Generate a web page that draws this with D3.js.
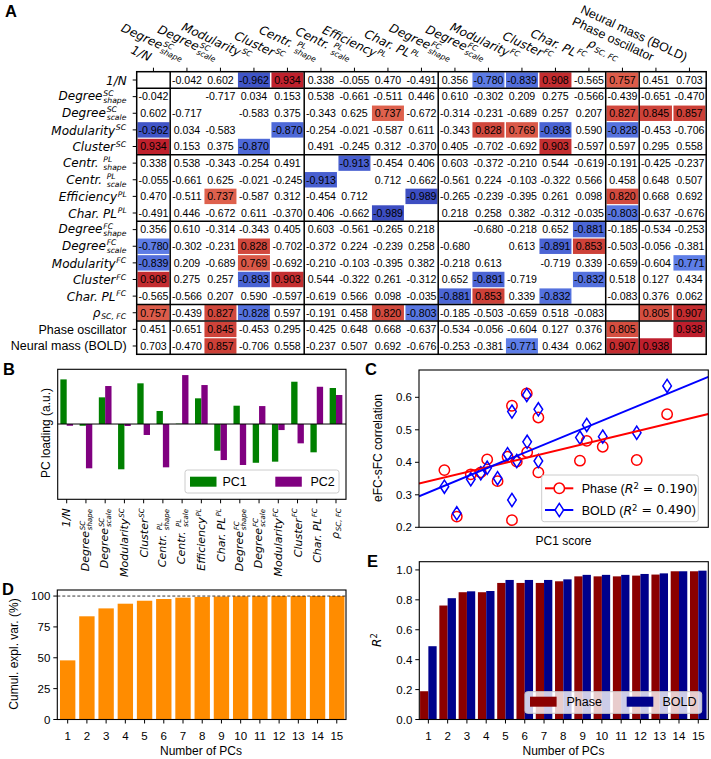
<!DOCTYPE html>
<html><head><meta charset="utf-8">
<script src="https://cdn.jsdelivr.net/npm/d3@7"></script>
<style>
body{margin:0;background:#fff}
</style></head><body>
<svg id="chart" width="711" height="759" xmlns="http://www.w3.org/2000/svg"></svg>
<script>
// ================= DATA =================
const varNames = [
  {m:"1/N"},
  {m:"Degree", sup:"SC", sub:"shape"},
  {m:"Degree", sup:"SC", sub:"scale"},
  {m:"Modularity", sup:"SC"},
  {m:"Cluster", sup:"SC"},
  {m:"Centr.\u00a0", sup:"PL", sub:"shape"},
  {m:"Centr.\u00a0", sup:"PL", sub:"scale"},
  {m:"Efficiency", sup:"PL"},
  {m:"Char.\u00a0PL", sup:"PL"},
  {m:"Degree", sup:"FC", sub:"shape"},
  {m:"Degree", sup:"FC", sub:"scale"},
  {m:"Modularity", sup:"FC"},
  {m:"Cluster", sup:"FC"},
  {m:"Char.\u00a0PL", sup:"FC"},
  {m:"\u03c1", sub:"SC,\u00a0FC"},
  {m:"Phase oscillator", plain:true},
  {m:"Neural mass (BOLD)", plain:true}
];
const groupBreaks = [1, 5, 9, 14, 15];
const colorThreshold = 0.72;
const corr = [
 [null,-0.042,0.602,-0.962,0.934,0.338,-0.055,0.470,-0.491,0.356,-0.780,-0.839,0.908,-0.565,0.757,0.451,0.703],
 [-0.042,null,-0.717,0.034,0.153,0.538,-0.661,-0.511,0.446,0.610,-0.302,0.209,0.275,-0.566,-0.439,-0.651,-0.470],
 [0.602,-0.717,null,-0.583,0.375,-0.343,0.625,0.737,-0.672,-0.314,-0.231,-0.689,0.257,0.207,0.827,0.845,0.857],
 [-0.962,0.034,-0.583,null,-0.870,-0.254,-0.021,-0.587,0.611,-0.343,0.828,0.769,-0.893,0.590,-0.828,-0.453,-0.706],
 [0.934,0.153,0.375,-0.870,null,0.491,-0.245,0.312,-0.370,0.405,-0.702,-0.692,0.903,-0.597,0.597,0.295,0.558],
 [0.338,0.538,-0.343,-0.254,0.491,null,-0.913,-0.454,0.406,0.603,-0.372,-0.210,0.544,-0.619,-0.191,-0.425,-0.237],
 [-0.055,-0.661,0.625,-0.021,-0.245,-0.913,null,0.712,-0.662,-0.561,0.224,-0.103,-0.322,0.566,0.458,0.648,0.507],
 [0.470,-0.511,0.737,-0.587,0.312,-0.454,0.712,null,-0.989,-0.265,-0.239,-0.395,0.261,0.098,0.820,0.668,0.692],
 [-0.491,0.446,-0.672,0.611,-0.370,0.406,-0.662,-0.989,null,0.218,0.258,0.382,-0.312,-0.035,-0.803,-0.637,-0.676],
 [0.356,0.610,-0.314,-0.343,0.405,0.603,-0.561,-0.265,0.218,null,-0.680,-0.218,0.652,-0.881,-0.185,-0.534,-0.253],
 [-0.780,-0.302,-0.231,0.828,-0.702,-0.372,0.224,-0.239,0.258,-0.680,null,0.613,-0.891,0.853,-0.503,-0.056,-0.381],
 [-0.839,0.209,-0.689,0.769,-0.692,-0.210,-0.103,-0.395,0.382,-0.218,0.613,null,-0.719,0.339,-0.659,-0.604,-0.771],
 [0.908,0.275,0.257,-0.893,0.903,0.544,-0.322,0.261,-0.312,0.652,-0.891,-0.719,null,-0.832,0.518,0.127,0.434],
 [-0.565,-0.566,0.207,0.590,-0.597,-0.619,0.566,0.098,-0.035,-0.881,0.853,0.339,-0.832,null,-0.083,0.376,0.062],
 [0.757,-0.439,0.827,-0.828,0.597,-0.191,0.458,0.820,-0.803,-0.185,-0.503,-0.659,0.518,-0.083,null,0.805,0.907],
 [0.451,-0.651,0.845,-0.453,0.295,-0.425,0.648,0.668,-0.637,-0.534,-0.056,-0.604,0.127,0.376,0.805,null,0.938],
 [0.703,-0.470,0.857,-0.706,0.558,-0.237,0.507,0.692,-0.676,-0.253,-0.381,-0.771,0.434,0.062,0.907,0.938,null]
];

// Panel B: PC loadings (a.u.)
const pcVarCount = 15;
const pc1Loading = [0.363,-0.014,0.217,-0.368,0.331,0.106,0.003,0.209,-0.217,0.149,-0.315,-0.306,0.344,-0.230,0.293];
const pc2Loading = [-0.014,-0.360,0.309,-0.016,-0.089,-0.352,0.398,0.317,-0.293,-0.333,0.146,-0.049,-0.157,0.303,0.236];
const pcLegend = ["PC1","PC2"];

// Panel C: PC1 score vs eFC-sFC correlation
const pc1Score  = [-1.39,-1.08,-0.73,-0.48,-0.32,-0.06,0.19,0.30,0.30,0.42,0.67,0.68,0.96,0.96,2.00,2.17,2.57,3.42,4.18];
const phaseCorr = [0.376,0.233,0.363,0.369,0.409,0.342,0.417,0.574,0.222,0.402,0.612,0.431,0.538,0.369,0.405,0.466,0.448,0.407,0.548];
const boldCorr  = [0.325,0.243,0.348,0.366,0.383,0.351,0.425,0.556,0.284,0.404,0.607,0.463,0.563,0.404,0.476,0.515,0.479,0.491,0.635];
const r2Labels = ["0.190","0.490"];
const cYTicks = [0.2,0.3,0.4,0.5,0.6];

// Panel D / E
const nPCs = [1,2,3,4,5,6,7,8,9,10,11,12,13,14,15];
const cumulVar = [47.9,83.6,90.0,93.8,96.2,97.6,98.7,99.3,99.6,99.8,99.9,100,100,100,100];
const dYTicks = [0,25,50,75,100];
const r2Phase = [0.189,0.762,0.851,0.851,0.913,0.913,0.913,0.924,0.957,0.957,0.957,0.962,0.969,0.991,0.991];
const r2Bold  = [0.490,0.811,0.857,0.859,0.933,0.933,0.933,0.937,0.967,0.967,0.967,0.973,0.977,0.991,0.995];
const eYTicks = [0,0.2,0.4,0.6,0.8,1.0];
const eLegend = ["Phase","BOLD"];

// ================= DRAWING =================
const SANS = "'Liberation Sans', Arial, Helvetica, sans-serif";
const MATH = "'DejaVu Sans', sans-serif";
const svg = d3.select("#chart");
svg.append("rect").attr("width",711).attr("height",759).attr("fill","#fff");

// coolwarm colormap approximation
const cwStops = [
  [0.0,[59,76,192]],[0.0625,[77,104,215]],[0.125,[98,130,234]],[0.1875,[120,155,247]],
  [0.25,[141,176,254]],[0.5,[221,221,221]],[0.75,[244,154,123]],[0.8125,[234,123,96]],
  [0.875,[221,94,75]],[0.9375,[201,59,52]],[1.0,[180,4,38]]
];
const coolwarm = d3.scaleLinear().domain(cwStops.map(d=>d[0])).range(cwStops.map(d=>d3.rgb(...d[1]))).interpolate(d3.interpolateRgb);

function drawMath(g, spec, size){
  const plain = !!spec.plain;
  const t = g.append("text").attr("x",0).attr("y",0)
    .attr("font-family", plain?SANS:MATH).attr("font-size",size)
    .attr("font-style", plain?"normal":"italic").attr("fill","#000").text(spec.m);
  const w = t.node().getComputedTextLength();
  const ss = size*0.64;
  if (spec.sup){
    g.append("text").attr("x",w+0.8).attr("y",-0.38*size)
     .attr("font-family",MATH).attr("font-size",ss).attr("font-style","italic").text(spec.sup);
  }
  if (spec.sub){
    g.append("text").attr("x",w+0.8).attr("y",(spec.sup?0.25:0.2)*size)
     .attr("font-family",MATH).attr("font-size",ss).attr("font-style","italic").text(spec.sub);
  }
}
function placeLabel(parent, spec, size, angle, al){
  const outer = parent.append("g");
  const inner = outer.append("g").attr("transform",`rotate(${angle})`);
  drawMath(inner, spec, size);
  const bb = outer.node().getBBox();
  let tx, ty;
  if (al.right!=null) tx = al.right-(bb.x+bb.width);
  else if (al.cx!=null) tx = al.cx-(bb.x+bb.width/2);
  else tx = al.left-bb.x;
  if (al.bottom!=null) ty = al.bottom-(bb.y+bb.height);
  else if (al.top!=null) ty = al.top-bb.y;
  else ty = al.cy-(bb.y+bb.height/2);
  outer.attr("transform",`translate(${tx},${ty})`);
  return outer;
}
function panelLetter(ch,x,y){
  svg.append("text").attr("x",x).attr("y",y).attr("font-family",SANS).attr("font-weight","bold")
    .attr("font-size",16.5).text(ch);
}
function frame(b){
  svg.append("rect").attr("x",b.left).attr("y",b.top).attr("width",b.right-b.left)
    .attr("height",b.bottom-b.top).attr("fill","none").attr("stroke","#000").attr("stroke-width",1.1);
}
function legendBox(x,y,w,h){
  svg.append("rect").attr("x",x).attr("y",y).attr("width",w).attr("height",h).attr("rx",2.5)
    .attr("fill","#fff").attr("fill-opacity",0.8).attr("stroke","#cccccc").attr("stroke-width",1);
}
function yAxisTicks(scale, ticks, b, fmt){
  const g = svg.append("g");
  ticks.forEach(t=>{
    const y = scale(t);
    g.append("line").attr("x1",b.left-4).attr("x2",b.left).attr("y1",y).attr("y2",y).attr("stroke","#000").attr("stroke-width",1);
    g.append("text").attr("x",b.left-7).attr("y",y).attr("dy","0.36em").attr("text-anchor","end")
      .attr("font-family",SANS).attr("font-size",11.5).text(fmt(t));
  });
}
function xAxisTicks(scale, ticks, b){
  const g = svg.append("g");
  ticks.forEach(t=>{
    const x = scale(t);
    g.append("line").attr("x1",x).attr("x2",x).attr("y1",b.bottom).attr("y2",b.bottom+4).attr("stroke","#000").attr("stroke-width",1);
    g.append("text").attr("x",x).attr("y",b.bottom+20.5).attr("text-anchor","middle")
      .attr("font-family",SANS).attr("font-size",11.5).text(t);
  });
}
function axisLabelV(text,x,y){
  svg.append("text").attr("transform",`translate(${x},${y}) rotate(-90)`).attr("text-anchor","middle")
    .attr("dy","0.35em").attr("font-family",SANS).attr("font-size",12).text(text);
}
function axisLabelH(text,x,y){
  svg.append("text").attr("x",x).attr("y",y).attr("text-anchor","middle")
    .attr("font-family",SANS).attr("font-size",12).text(text);
}

// ---------- Panel A ----------
const A = {left:136.7, right:706.2, top:71.7, bottom:354.3};
const n = varNames.length;
const xA = d3.scaleBand().domain(d3.range(n)).range([A.left,A.right]);
const yA = d3.scaleBand().domain(d3.range(n)).range([A.top,A.bottom]);
const cells = [];
corr.forEach((row,i)=>row.forEach((v,j)=>{ if(v!==null) cells.push({i,j,v}); }));
const gA = svg.append("g");
gA.selectAll("rect.cell").data(cells.filter(d=>Math.abs(d.v)>=colorThreshold)).join("rect")
  .attr("x",d=>xA(d.j)+0.75).attr("y",d=>yA(d.i)+0.6)
  .attr("width",xA.bandwidth()-1.5).attr("height",yA.bandwidth()-1.2)
  .attr("fill",d=>coolwarm((d.v+1)/2));
gA.selectAll("text.val").data(cells).join("text")
  .attr("x",d=>xA(d.j)+xA.bandwidth()/2).attr("y",d=>yA(d.i)+yA.bandwidth()/2)
  .attr("dy","0.36em").attr("text-anchor","middle")
  .attr("font-family",SANS).attr("font-size",10.6).text(d=>d.v.toFixed(3));
groupBreaks.forEach(b=>{
  gA.append("line").attr("x1",A.left).attr("x2",A.right).attr("y1",yA(b)).attr("y2",yA(b)).attr("stroke","#000").attr("stroke-width",1.5);
  gA.append("line").attr("y1",A.top).attr("y2",A.bottom).attr("x1",xA(b)).attr("x2",xA(b)).attr("stroke","#000").attr("stroke-width",1.5);
});
gA.append("rect").attr("x",A.left).attr("y",A.top).attr("width",A.right-A.left).attr("height",A.bottom-A.top)
  .attr("fill","none").attr("stroke","#000").attr("stroke-width",1.5);
d3.range(n).forEach(k=>{
  const cx = xA(k)+xA.bandwidth()/2, cy = yA(k)+yA.bandwidth()/2;
  gA.append("line").attr("x1",cx).attr("x2",cx).attr("y1",A.top-4).attr("y2",A.top).attr("stroke","#000");
  gA.append("line").attr("x1",A.left-4).attr("x2",A.left).attr("y1",cy).attr("y2",cy).attr("stroke","#000");
  const sz = varNames[k].plain?12.5:12;
  placeLabel(svg, varNames[k], sz, 0, {right:A.left-10, cy:cy+0.5});
  placeLabel(svg, varNames[k], sz, 25, {right:cx, bottom:A.top-7.5});
});
panelLetter("A",5,17);

// ---------- Panel B ----------
const B = {left:57.7, right:346, top:369.3, bottom:499.3};
const xB = d3.scaleLinear().domain([-0.468,14.52]).range([B.left,B.right]);
const yB = d3.scaleLinear().domain([-0.612,0.445]).range([B.bottom,B.top]);
const bwB = xB(0.33)-xB(0);
const pcIdx = d3.range(pcVarCount);
svg.append("g").selectAll("rect").data(pcIdx).join("rect")
  .attr("x",i=>xB(i)-bwB).attr("width",bwB)
  .attr("y",i=>Math.min(yB(pc1Loading[i]),yB(0))).attr("height",i=>Math.abs(yB(pc1Loading[i])-yB(0)))
  .attr("fill","#008000");
svg.append("g").selectAll("rect").data(pcIdx).join("rect")
  .attr("x",i=>xB(i)).attr("width",bwB)
  .attr("y",i=>Math.min(yB(pc2Loading[i]),yB(0))).attr("height",i=>Math.abs(yB(pc2Loading[i])-yB(0)))
  .attr("fill","#800080");
svg.append("line").attr("x1",B.left).attr("x2",B.right).attr("y1",yB(0)).attr("y2",yB(0)).attr("stroke","#000").attr("stroke-width",1);
frame(B);
pcIdx.forEach(i=>{
  const x = xB(i);
  svg.append("line").attr("x1",x).attr("x2",x).attr("y1",B.bottom).attr("y2",B.bottom+4).attr("stroke","#000");
  placeLabel(svg, varNames[i], 11, -90, {cx:x, top:B.bottom+9});
});
legendBox(185,470,154,23);
[["#008000",190,pcLegend[0],222.5],["#800080",275.3,pcLegend[1],310.5]].forEach(([c,x,t,tx])=>{
  svg.append("rect").attr("x",x).attr("y",476.7).attr("width",26.5).attr("height",10).attr("fill",c);
  svg.append("text").attr("x",tx).attr("y",481.7).attr("dy","0.36em").attr("font-family",SANS).attr("font-size",12.5).text(t);
});
axisLabelV("PC loading (a.u.)",46,433);
panelLetter("B",3,375);

// ---------- Panel C ----------
const C = {left:419, right:708.3, top:370, bottom:527.3};
const xC = d3.scaleLinear().domain([-2.025,5.21]).range([C.left,C.right]);
const yC = d3.scaleLinear().domain([0.2,0.684]).range([C.bottom,C.top]);
svg.append("clipPath").attr("id","clipC").append("rect").attr("x",C.left).attr("y",C.top).attr("width",C.right-C.left).attr("height",C.bottom-C.top);
const gC = svg.append("g").attr("clip-path","url(#clipC)");
function linfit(xs,ys){
  const mx=d3.mean(xs), my=d3.mean(ys);
  let sxy=0,sxx=0; xs.forEach((x,i)=>{sxy+=(x-mx)*(ys[i]-my); sxx+=(x-mx)*(x-mx);});
  const s=sxy/sxx; return x=>my+s*(x-mx);
}
const diamond = "M0,-6.6L4.3,0L0,6.6L-4.3,0Z";
gC.selectAll("circle").data(pc1Score).join("circle")
  .attr("cx",d=>xC(d)).attr("cy",(d,i)=>yC(phaseCorr[i])).attr("r",5.2)
  .attr("fill","none").attr("stroke","#ff0000").attr("stroke-width",1.5);
gC.selectAll("path.dm").data(pc1Score).join("path").attr("class","dm")
  .attr("d",diamond).attr("transform",(d,i)=>`translate(${xC(d)},${yC(boldCorr[i])})`)
  .attr("fill","none").attr("stroke","#0000ff").attr("stroke-width",1.5);
[[phaseCorr,"#ff0000"],[boldCorr,"#0000ff"]].forEach(([ys,c])=>{
  const f = linfit(pc1Score,ys);
  const dom = xC.domain();
  gC.append("line").attr("x1",xC(dom[0])).attr("x2",xC(dom[1])).attr("y1",yC(f(dom[0]))).attr("y2",yC(f(dom[1])))
    .attr("stroke",c).attr("stroke-width",2);
});
frame(C);
yAxisTicks(yC, cYTicks, C, d3.format(".1f"));
axisLabelV("eFC-sFC correlation",378,448);
axisLabelH("PC1 score",563.5,545);
legendBox(541.7,475,156.6,46.7);
[["Phase","#ff0000",488.3,"c",r2Labels[0]],["BOLD","#0000ff",510,"d",r2Labels[1]]].forEach(([name,c,y,m,r2])=>{
  svg.append("line").attr("x1",545).attr("x2",573.3).attr("y1",y).attr("y2",y).attr("stroke",c).attr("stroke-width",2);
  if(m==="c") svg.append("circle").attr("cx",559.3).attr("cy",y).attr("r",5.2).attr("fill","#fff").attr("stroke",c).attr("stroke-width",1.5);
  else svg.append("path").attr("d",diamond).attr("transform",`translate(559.3,${y})`).attr("fill","#fff").attr("stroke",c).attr("stroke-width",1.5);
  const t = svg.append("text").attr("x",581.7).attr("y",y).attr("dy","0.36em").attr("font-family",SANS).attr("font-size",12.5);
  t.append("tspan").text(name+" (");
  t.append("tspan").attr("font-family",MATH).attr("font-style","italic").text("R");
  t.append("tspan").attr("font-family",MATH).attr("font-size",8.5).attr("dy","-0.45em").text("2");
  t.append("tspan").attr("font-family",MATH).attr("dy","0.3em").text("\u00a0=\u00a0"+r2);
  t.append("tspan").text(")");
});
panelLetter("C",365,375);

// ---------- Panel D ----------
const D = {left:57.3, right:346, top:590, bottom:719.5};
const xD = d3.scaleLinear().domain([0.46,15.48]).range([D.left,D.right]);
const yD = d3.scaleLinear().domain([0,104.9]).range([D.bottom,D.top]);
svg.append("g").selectAll("rect").data(nPCs).join("rect")
  .attr("x",d=>xD(d-0.4)).attr("width",xD(0.8)-xD(0))
  .attr("y",(d,i)=>yD(cumulVar[i])).attr("height",(d,i)=>yD(0)-yD(cumulVar[i]))
  .attr("fill","#ff8c00");
svg.append("line").attr("x1",D.left).attr("x2",D.right).attr("y1",yD(100)).attr("y2",yD(100))
  .attr("stroke","#000").attr("stroke-width",0.8).attr("stroke-dasharray","3,2");
frame(D);
yAxisTicks(yD, dYTicks, D, d3.format("d"));
xAxisTicks(xD, nPCs, D);
axisLabelV("Cumul. expl. var. (%)",14,654);
axisLabelH("Number of PCs",201,755);
panelLetter("D",2,595);

// ---------- Panel E ----------
const E = {left:419.3, right:708.3, top:561.7, bottom:719.5};
const xE = d3.scaleLinear().domain([0.53,15.52]).range([E.left,E.right]);
const yE = d3.scaleLinear().domain([0,1.055]).range([E.bottom,E.top]);
const bwE = xE(0.43)-xE(0);
svg.append("g").selectAll("rect").data(nPCs).join("rect")
  .attr("x",d=>xE(d)-bwE).attr("width",bwE)
  .attr("y",(d,i)=>yE(r2Phase[i])).attr("height",(d,i)=>yE(0)-yE(r2Phase[i])).attr("fill","#8b0000");
svg.append("g").selectAll("rect").data(nPCs).join("rect")
  .attr("x",d=>xE(d)).attr("width",bwE)
  .attr("y",(d,i)=>yE(r2Bold[i])).attr("height",(d,i)=>yE(0)-yE(r2Bold[i])).attr("fill","#00008b");
frame(E);
yAxisTicks(yE, eYTicks, E, d3.format(".1f"));
xAxisTicks(xE, nPCs, E);
legendBox(525,691.7,176.7,21.6);
[["#8b0000",530,eLegend[0],566.5],["#00008b",626.7,eLegend[1],662.5]].forEach(([c,x,t,tx])=>{
  svg.append("rect").attr("x",x).attr("y",696.7).attr("width",26.6).attr("height",10).attr("fill",c);
  svg.append("text").attr("x",tx).attr("y",701.7).attr("dy","0.36em").attr("font-family",SANS).attr("font-size",12.5).text(t);
});
{
  const t = svg.append("text").attr("transform","translate(377,640) rotate(-90)").attr("text-anchor","middle")
    .attr("dy","0.35em").attr("font-family",MATH).attr("font-size",12);
  t.append("tspan").attr("font-style","italic").text("R");
  t.append("tspan").attr("font-size",8.5).attr("dy","-0.5em").text("2");
}
axisLabelH("Number of PCs",563.5,755);
panelLetter("E",367,567);
</script>
</body></html>
